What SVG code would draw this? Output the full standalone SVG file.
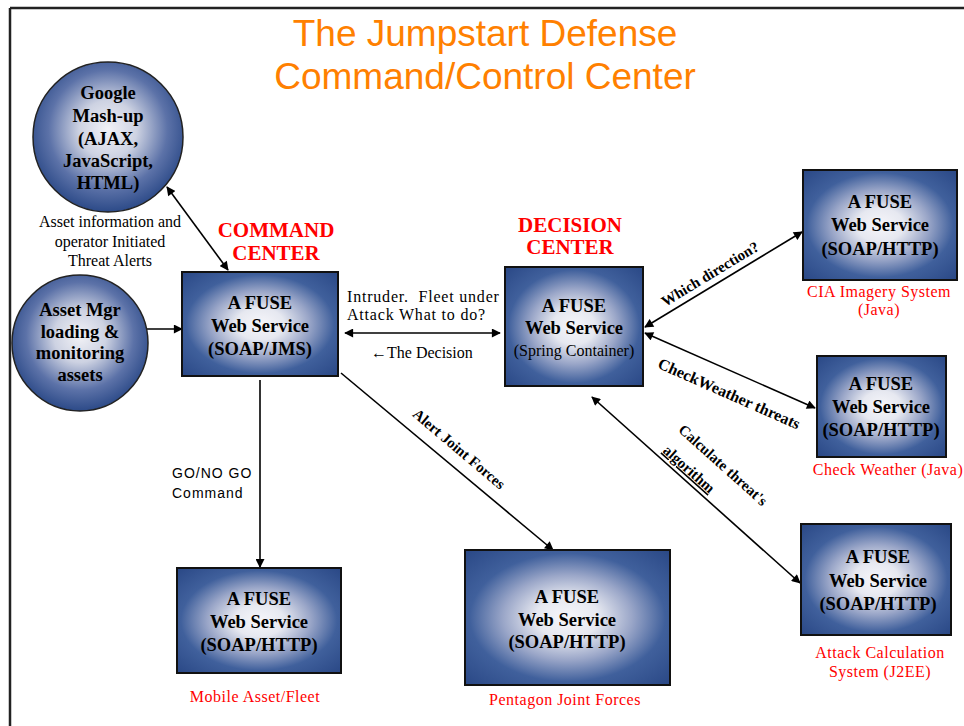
<svg xmlns="http://www.w3.org/2000/svg" width="964" height="726" viewBox="0 0 964 726">
<style>
.title{font-family:"Liberation Sans",Arial,sans-serif;font-size:37px;fill:#ff8000;text-anchor:middle}
.box{stroke:#111;stroke-width:2;fill:url(#boxGrad)}
.circ{stroke:#222;stroke-width:1.5;fill:url(#circGrad)}
.nt{font-family:"Liberation Serif","Times New Roman",serif;font-weight:bold;font-size:18.5px;fill:#000;text-anchor:middle}
.ct{font-family:"Liberation Serif","Times New Roman",serif;font-weight:bold;font-size:18.5px;fill:#000;text-anchor:middle}
.sp{font-family:"Liberation Serif","Times New Roman",serif;font-size:16px;fill:#000;text-anchor:middle}
.hd{font-family:"Liberation Serif","Times New Roman",serif;font-weight:bold;font-size:21px;fill:#ff0000;text-anchor:middle}
.rl{font-family:"Liberation Serif","Times New Roman",serif;font-size:16px;letter-spacing:0.5px;fill:#ff0000;text-anchor:middle}
.an{font-family:"Liberation Serif","Times New Roman",serif;font-size:16px;fill:#000}
.wide{letter-spacing:0.8px}
.al{font-family:"Liberation Serif","Times New Roman",serif;font-weight:bold;font-size:15px;fill:#000;text-anchor:middle}
.mono{font-family:"Liberation Sans",Arial,sans-serif;font-size:14px;letter-spacing:1px;fill:#000}
.ln{stroke:#000;stroke-width:1.6;fill:none}
.frame{stroke:#222;stroke-width:2.5;fill:none}
</style>
<defs>
<radialGradient id="boxGrad" cx="0.5" cy="0.5" r="0.7">
<stop offset="0" stop-color="#f6f6fa"/>
<stop offset="0.22" stop-color="#e6e8f0"/>
<stop offset="0.45" stop-color="#9aa6c8"/>
<stop offset="0.68" stop-color="#40609c"/>
<stop offset="1" stop-color="#2a4886"/>
</radialGradient>
<radialGradient id="circGrad" cx="0.5" cy="0.45" r="0.55">
<stop offset="0" stop-color="#f2f2f6"/>
<stop offset="0.35" stop-color="#cdd2e2"/>
<stop offset="0.72" stop-color="#5c72a8"/>
<stop offset="1" stop-color="#2c4a88"/>
</radialGradient>
<marker id="ah" viewBox="0 0 10 10" refX="9" refY="5" markerWidth="10" markerHeight="9" markerUnits="userSpaceOnUse" orient="auto-start-reverse">
<path d="M0,0 L10,5 L0,10 Z" fill="#000"/>
</marker>
</defs>

<g id="frame">
<line class="frame" x1="10" y1="8" x2="964" y2="8"/>
<line class="frame" x1="10" y1="8" x2="10" y2="726"/>
</g>

<g id="title">
<text class="title" x="485" y="46">The Jumpstart Defense</text>
<text class="title" x="485" y="89">Command/Control Center</text>
</g>

<g id="connectors">
<line class="ln" x1="167" y1="187" x2="228" y2="270" marker-start="url(#ah)" marker-end="url(#ah)"/>
<line class="ln" x1="147" y1="329" x2="182" y2="329" marker-end="url(#ah)"/>
<line class="ln" x1="345" y1="333" x2="500" y2="333" marker-start="url(#ah)" marker-end="url(#ah)"/>
<line class="ln" x1="260" y1="380" x2="260" y2="567" marker-end="url(#ah)"/>
<line class="ln" x1="341" y1="373" x2="553" y2="550" marker-end="url(#ah)"/>
<line class="ln" x1="645" y1="327" x2="802" y2="232" marker-start="url(#ah)" marker-end="url(#ah)"/>
<line class="ln" x1="645" y1="333" x2="815" y2="408" marker-start="url(#ah)" marker-end="url(#ah)"/>
<line class="ln" x1="592" y1="397" x2="800" y2="583" marker-start="url(#ah)" marker-end="url(#ah)"/>
</g>

<g id="connector-labels">
<text class="an" x="110" y="227" text-anchor="middle">Asset information and</text>
<text class="an" x="110" y="247" text-anchor="middle">operator Initiated</text>
<text class="an" x="110" y="266" text-anchor="middle">Threat Alerts</text>
<text class="an wide" x="347" y="302" xml:space="preserve">Intruder.  Fleet under</text>
<text class="an wide" x="347" y="320">Attack What to do?</text>
<text class="an" x="371" y="358">←The Decision</text>
<text class="mono" x="172" y="478">GO/NO GO</text>
<text class="mono" x="172" y="498">Command</text>
<text class="al" transform="translate(459,449) rotate(40.2)" y="5">Alert Joint Forces</text>
<text class="al" transform="translate(710,274) rotate(-31.2)" y="5">Which direction?</text>
<text class="al" transform="translate(729,394) rotate(23.8)" y="5" style="font-size:16px">CheckWeather threats</text>
<text class="al" transform="translate(723,465) rotate(41.8)" y="5">Calculate threat's</text>
<text class="al" transform="translate(689,469) rotate(41.8)" y="5" text-decoration="underline">algorithm</text>
</g>

<g id="google">
<circle class="circ" cx="108" cy="137" r="75"/>
<text class="ct" x="108" y="99">Google</text>
<text class="ct" x="108" y="122">Mash-up</text>
<text class="ct" x="108" y="145">(AJAX,</text>
<text class="ct" x="108" y="167">JavaScript,</text>
<text class="ct" x="108" y="189">HTML)</text>
</g>

<g id="assetmgr">
<circle class="circ" cx="80" cy="343" r="68"/>
<text class="ct" x="80" y="316">Asset Mgr</text>
<text class="ct" x="80" y="338">loading &amp;</text>
<text class="ct" x="80" y="359">monitoring</text>
<text class="ct" x="80" y="381">assets</text>
</g>

<g id="command">
<text class="hd" x="276" y="237">COMMAND</text>
<text class="hd" x="276" y="260">CENTER</text>
<rect class="box" x="182" y="272" width="156" height="104"/>
<text class="nt" x="260" y="309">A FUSE</text>
<text class="nt" x="260" y="332">Web Service</text>
<text class="nt" x="260" y="355">(SOAP/JMS)</text>
</g>

<g id="decision">
<text class="hd" x="570" y="232">DECISION</text>
<text class="hd" x="570" y="254">CENTER</text>
<rect class="box" x="505" y="267" width="138" height="119"/>
<text class="nt" x="574" y="312">A FUSE</text>
<text class="nt" x="574" y="334">Web Service</text>
<text class="sp" x="574" y="356">(Spring Container)</text>
</g>

<g id="cia">
<rect class="box" x="803" y="170" width="154" height="110"/>
<text class="nt" x="880" y="208">A FUSE</text>
<text class="nt" x="880" y="231">Web Service</text>
<text class="nt" x="880" y="255">(SOAP/HTTP)</text>
<text class="rl" x="879" y="297">CIA Imagery System</text>
<text class="rl" x="879" y="315">(Java)</text>
</g>

<g id="weather">
<rect class="box" x="817" y="356" width="129" height="101"/>
<text class="nt" x="881" y="390">A FUSE</text>
<text class="nt" x="881" y="413">Web Service</text>
<text class="nt" x="881" y="436">(SOAP/HTTP)</text>
<text class="rl" x="888" y="475">Check Weather (Java)</text>
</g>

<g id="attack">
<rect class="box" x="801" y="524" width="150" height="111"/>
<text class="nt" x="878" y="563">A FUSE</text>
<text class="nt" x="878" y="587">Web Service</text>
<text class="nt" x="878" y="610">(SOAP/HTTP)</text>
<text class="rl" x="880" y="658">Attack Calculation</text>
<text class="rl" x="880" y="677">System (J2EE)</text>
</g>

<g id="mobile">
<rect class="box" x="177" y="568" width="164" height="105"/>
<text class="nt" x="259" y="605">A FUSE</text>
<text class="nt" x="259" y="628">Web Service</text>
<text class="nt" x="259" y="651">(SOAP/HTTP)</text>
<text class="rl" x="255" y="702">Mobile Asset/Fleet</text>
</g>

<g id="pentagon">
<rect class="box" x="465" y="550" width="205" height="135"/>
<text class="nt" x="567" y="603">A FUSE</text>
<text class="nt" x="567" y="626">Web Service</text>
<text class="nt" x="567" y="648">(SOAP/HTTP)</text>
<text class="rl" x="565" y="705">Pentagon Joint Forces</text>
</g>
</svg>
